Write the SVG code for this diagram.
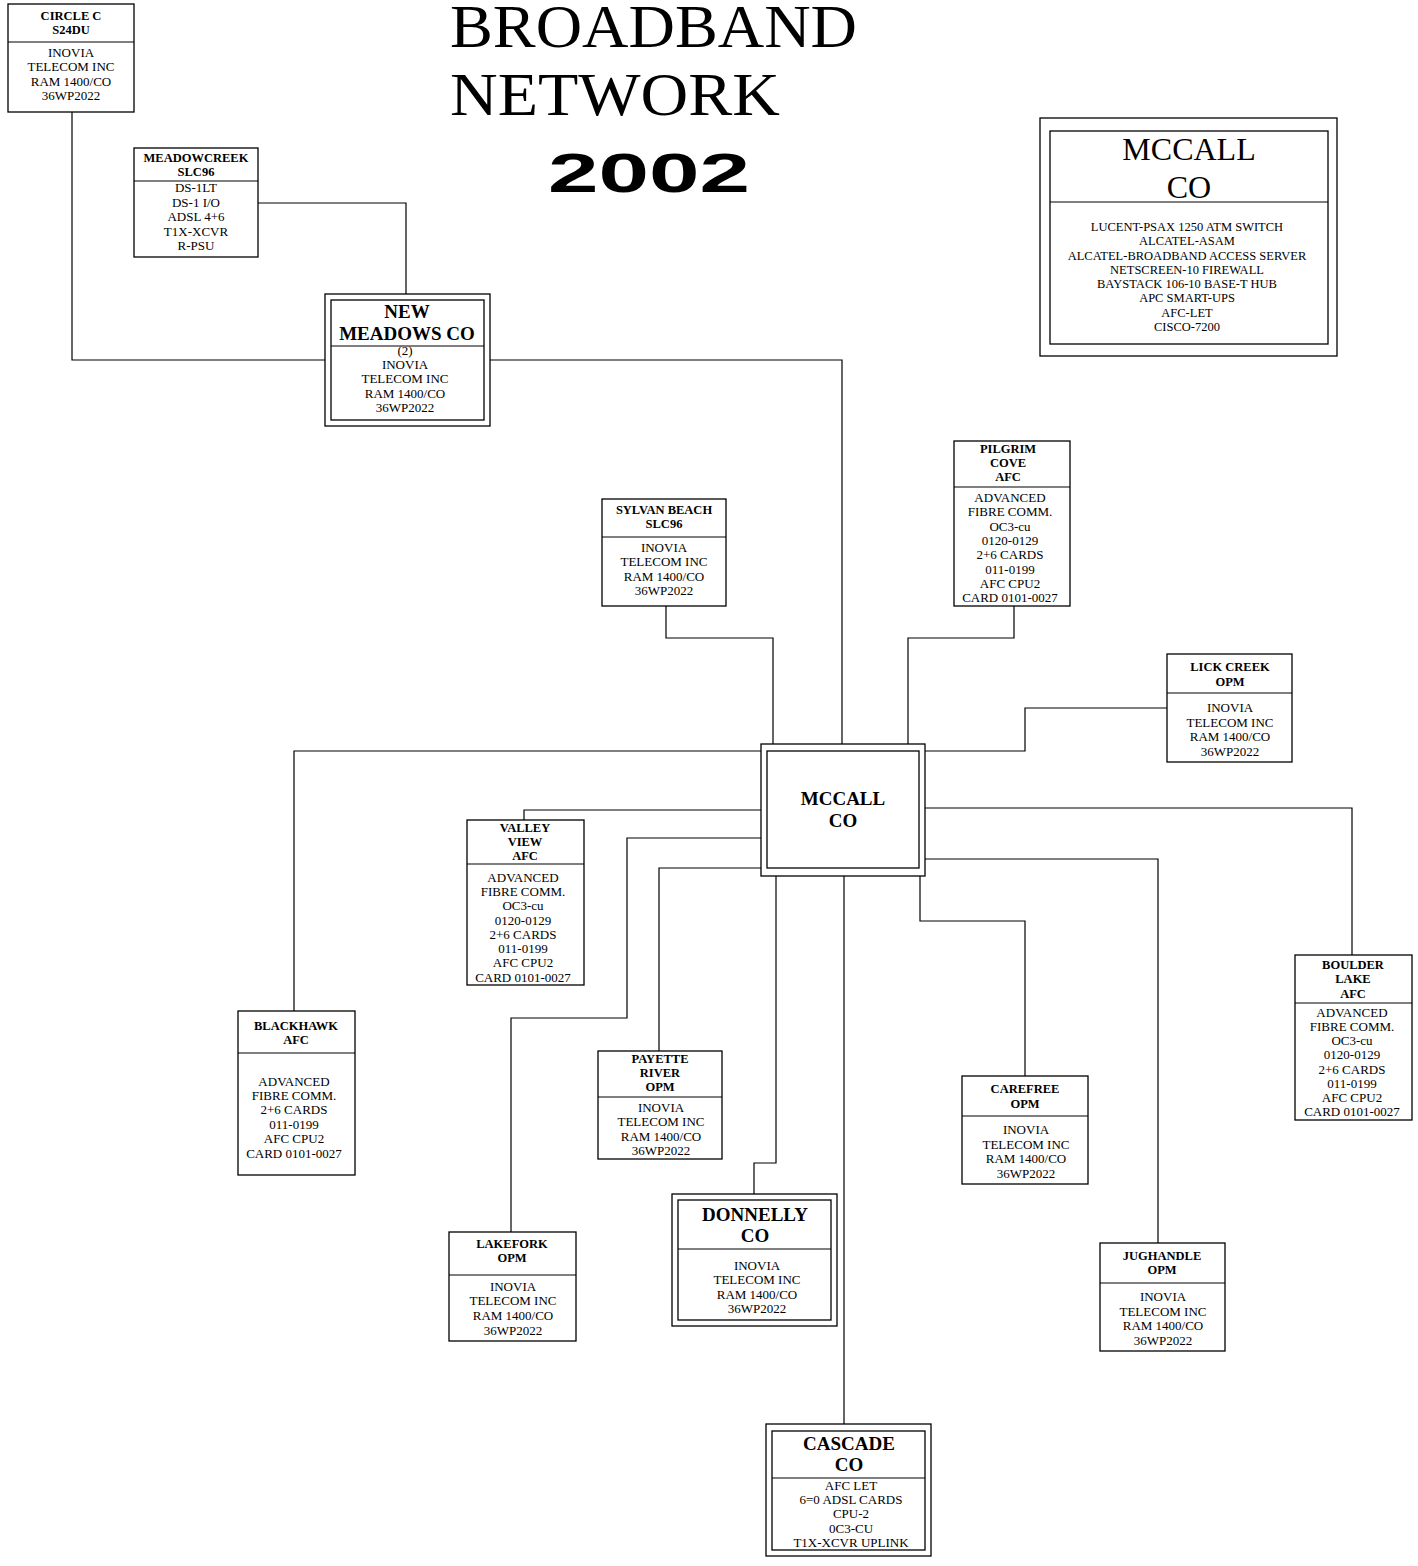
<svg xmlns="http://www.w3.org/2000/svg" width="1418" height="1566" viewBox="0 0 1418 1566">
<style>
.box{fill:#fff;stroke:#000;stroke-width:1.3}
.dv{stroke:#000;stroke-width:1.2}
.ln{fill:none;stroke:#000;stroke-width:1.2}
.h{font-family:"Liberation Serif",serif;font-weight:bold;font-size:12.5px;text-anchor:middle}
.hb{font-family:"Liberation Serif",serif;font-weight:bold;font-size:19px;text-anchor:middle}
.b{font-family:"Liberation Serif",serif;font-size:13px;text-anchor:middle}
.bs{font-family:"Liberation Serif",serif;font-size:12.5px;text-anchor:middle}
</style>
<rect width="1418" height="1566" fill="#fff"/>
<g id="title">
<text x="450" y="47" font-family="Liberation Serif,serif" font-size="62" textLength="407" lengthAdjust="spacingAndGlyphs">BROADBAND</text>
<text x="450" y="115" font-family="Liberation Serif,serif" font-size="62" textLength="330" lengthAdjust="spacingAndGlyphs">NETWORK</text>
<text x="548" y="192" font-family="Liberation Sans,sans-serif" font-weight="bold" font-size="56" textLength="202" lengthAdjust="spacingAndGlyphs">2002</text>
</g>
<g id="connectors">
<polyline class="ln" points="72,112 72,360 325,360"/>
<polyline class="ln" points="258,203 406,203 406,294"/>
<polyline class="ln" points="490,360 842,360 842,744"/>
<polyline class="ln" points="666,606 666,638 773,638 773,744"/>
<polyline class="ln" points="1014,606 1014,638 908,638 908,744"/>
<polyline class="ln" points="1167,708 1025,708 1025,751 925,751"/>
<polyline class="ln" points="761,751 294,751 294,1011"/>
<polyline class="ln" points="761,810 524,810 524,820"/>
<polyline class="ln" points="761,838 627,838 627,1018 511,1018 511,1232"/>
<polyline class="ln" points="761,868 659,868 659,1051"/>
<polyline class="ln" points="776,876 776,1163 754,1163 754,1194"/>
<polyline class="ln" points="844,876 844,1424"/>
<polyline class="ln" points="920,876 920,921 1025,921 1025,1076"/>
<polyline class="ln" points="925,859 1158,859 1158,1243"/>
<polyline class="ln" points="925,808 1352,808 1352,955"/>
</g>
<g id="circle-c">
<rect class="box" x="8" y="4" width="126" height="108"/>
<line class="dv" x1="8" y1="42" x2="134" y2="42"/>
<text class="h" x="71" y="20">CIRCLE C</text>
<text class="h" x="71" y="34">S24DU</text>
<text class="b" x="71" y="57">INOVIA</text>
<text class="b" x="71" y="71">TELECOM INC</text>
<text class="b" x="71" y="86">RAM 1400/CO</text>
<text class="b" x="71" y="100">36WP2022</text>
</g>
<g id="meadowcreek">
<rect class="box" x="134" y="148" width="124" height="109"/>
<line class="dv" x1="134" y1="181" x2="258" y2="181"/>
<text class="h" x="196" y="162">MEADOWCREEK</text>
<text class="h" x="196" y="176">SLC96</text>
<text class="b" x="196" y="192">DS-1LT</text>
<text class="b" x="196" y="207">DS-1 I/O</text>
<text class="b" x="196" y="221">ADSL 4+6</text>
<text class="b" x="196" y="236">T1X-XCVR</text>
<text class="b" x="196" y="250">R-PSU</text>
</g>
<g id="new-meadows">
<rect class="box" x="325" y="294" width="165" height="132"/>
<rect class="box" x="331" y="300" width="153" height="120"/>
<line class="dv" x1="331" y1="346" x2="484" y2="346"/>
<text class="hb" x="407" y="318">NEW</text>
<text class="hb" x="407" y="340">MEADOWS CO</text>
<text class="b" x="405" y="355" font-size="10">(2)</text>
<text class="b" x="405" y="369">INOVIA</text>
<text class="b" x="405" y="383">TELECOM INC</text>
<text class="b" x="405" y="398">RAM 1400/CO</text>
<text class="b" x="405" y="412">36WP2022</text>
</g>
<g id="mccall-legend">
<rect class="box" x="1040" y="118" width="297" height="238"/>
<rect class="box" x="1050" y="131" width="278" height="213"/>
<line class="dv" x1="1050" y1="202" x2="1328" y2="202"/>
<text x="1189" y="160" font-family="Liberation Serif,serif" font-size="32" text-anchor="middle">MCCALL</text>
<text x="1189" y="198" font-family="Liberation Serif,serif" font-size="32" text-anchor="middle">CO</text>
<text class="bs" x="1187" y="231">LUCENT-PSAX 1250 ATM SWITCH</text>
<text class="bs" x="1187" y="245">ALCATEL-ASAM</text>
<text class="bs" x="1187" y="260">ALCATEL-BROADBAND ACCESS SERVER</text>
<text class="bs" x="1187" y="274">NETSCREEN-10 FIREWALL</text>
<text class="bs" x="1187" y="288">BAYSTACK 106-10 BASE-T HUB</text>
<text class="bs" x="1187" y="302">APC SMART-UPS</text>
<text class="bs" x="1187" y="317">AFC-LET</text>
<text class="bs" x="1187" y="331">CISCO-7200</text>
</g>
<g id="sylvan-beach">
<rect class="box" x="602" y="499" width="124" height="107"/>
<line class="dv" x1="602" y1="537" x2="726" y2="537"/>
<text class="h" x="664" y="514">SYLVAN BEACH</text>
<text class="h" x="664" y="528">SLC96</text>
<text class="b" x="664" y="552">INOVIA</text>
<text class="b" x="664" y="566">TELECOM INC</text>
<text class="b" x="664" y="581">RAM 1400/CO</text>
<text class="b" x="664" y="595">36WP2022</text>
</g>
<g id="pilgrim-cove">
<rect class="box" x="954" y="441" width="116" height="165"/>
<line class="dv" x1="954" y1="487" x2="1070" y2="487"/>
<text class="h" x="1008" y="453">PILGRIM</text>
<text class="h" x="1008" y="467">COVE</text>
<text class="h" x="1008" y="481">AFC</text>
<text class="b" x="1010" y="502">ADVANCED</text>
<text class="b" x="1010" y="516">FIBRE COMM.</text>
<text class="b" x="1010" y="531">OC3-cu</text>
<text class="b" x="1010" y="545">0120-0129</text>
<text class="b" x="1010" y="559">2+6 CARDS</text>
<text class="b" x="1010" y="574">011-0199</text>
<text class="b" x="1010" y="588">AFC CPU2</text>
<text class="b" x="1010" y="602">CARD 0101-0027</text>
</g>
<g id="lick-creek">
<rect class="box" x="1167" y="654" width="125" height="108"/>
<line class="dv" x1="1167" y1="693" x2="1292" y2="693"/>
<text class="h" x="1230" y="671">LICK CREEK</text>
<text class="h" x="1230" y="686">OPM</text>
<text class="b" x="1230" y="712">INOVIA</text>
<text class="b" x="1230" y="727">TELECOM INC</text>
<text class="b" x="1230" y="741">RAM 1400/CO</text>
<text class="b" x="1230" y="756">36WP2022</text>
</g>
<g id="mccall-co">
<rect class="box" x="761" y="744" width="164" height="132"/>
<rect class="box" x="767" y="751" width="152" height="117"/>
<text class="hb" x="843" y="805" font-size="18.5">MCCALL</text>
<text class="hb" x="843" y="827" font-size="18.5">CO</text>
</g>
<g id="valley-view">
<rect class="box" x="467" y="820" width="117" height="165"/>
<line class="dv" x1="467" y1="864" x2="584" y2="864"/>
<text class="h" x="525" y="832">VALLEY</text>
<text class="h" x="525" y="846">VIEW</text>
<text class="h" x="525" y="860">AFC</text>
<text class="b" x="523" y="882">ADVANCED</text>
<text class="b" x="523" y="896">FIBRE COMM.</text>
<text class="b" x="523" y="910">OC3-cu</text>
<text class="b" x="523" y="925">0120-0129</text>
<text class="b" x="523" y="939">2+6 CARDS</text>
<text class="b" x="523" y="953">011-0199</text>
<text class="b" x="523" y="967">AFC CPU2</text>
<text class="b" x="523" y="982">CARD 0101-0027</text>
</g>
<g id="blackhawk">
<rect class="box" x="238" y="1011" width="117" height="164"/>
<line class="dv" x1="238" y1="1053" x2="355" y2="1053"/>
<text class="h" x="296" y="1030">BLACKHAWK</text>
<text class="h" x="296" y="1044">AFC</text>
<text class="b" x="294" y="1086">ADVANCED</text>
<text class="b" x="294" y="1100">FIBRE COMM.</text>
<text class="b" x="294" y="1114">2+6 CARDS</text>
<text class="b" x="294" y="1129">011-0199</text>
<text class="b" x="294" y="1143">AFC CPU2</text>
<text class="b" x="294" y="1158">CARD 0101-0027</text>
</g>
<g id="payette-river">
<rect class="box" x="598" y="1051" width="124" height="108"/>
<line class="dv" x1="598" y1="1097" x2="722" y2="1097"/>
<text class="h" x="660" y="1063">PAYETTE</text>
<text class="h" x="660" y="1077">RIVER</text>
<text class="h" x="660" y="1091">OPM</text>
<text class="b" x="661" y="1112">INOVIA</text>
<text class="b" x="661" y="1126">TELECOM INC</text>
<text class="b" x="661" y="1141">RAM 1400/CO</text>
<text class="b" x="661" y="1155">36WP2022</text>
</g>
<g id="lakefork">
<rect class="box" x="449" y="1232" width="127" height="109"/>
<line class="dv" x1="449" y1="1275" x2="576" y2="1275"/>
<text class="h" x="512" y="1248">LAKEFORK</text>
<text class="h" x="512" y="1262">OPM</text>
<text class="b" x="513" y="1291">INOVIA</text>
<text class="b" x="513" y="1305">TELECOM INC</text>
<text class="b" x="513" y="1320">RAM 1400/CO</text>
<text class="b" x="513" y="1335">36WP2022</text>
</g>
<g id="donnelly">
<rect class="box" x="672" y="1194" width="165" height="132"/>
<rect class="box" x="678" y="1200" width="153" height="120"/>
<line class="dv" x1="678" y1="1249" x2="831" y2="1249"/>
<text class="hb" x="755" y="1221">DONNELLY</text>
<text class="hb" x="755" y="1242">CO</text>
<text class="b" x="757" y="1270">INOVIA</text>
<text class="b" x="757" y="1284">TELECOM INC</text>
<text class="b" x="757" y="1299">RAM 1400/CO</text>
<text class="b" x="757" y="1313">36WP2022</text>
</g>
<g id="carefree">
<rect class="box" x="962" y="1076" width="126" height="108"/>
<line class="dv" x1="962" y1="1116" x2="1088" y2="1116"/>
<text class="h" x="1025" y="1093">CAREFREE</text>
<text class="h" x="1025" y="1108">OPM</text>
<text class="b" x="1026" y="1134">INOVIA</text>
<text class="b" x="1026" y="1149">TELECOM INC</text>
<text class="b" x="1026" y="1163">RAM 1400/CO</text>
<text class="b" x="1026" y="1178">36WP2022</text>
</g>
<g id="jughandle">
<rect class="box" x="1100" y="1243" width="125" height="108"/>
<line class="dv" x1="1100" y1="1283" x2="1225" y2="1283"/>
<text class="h" x="1162" y="1260">JUGHANDLE</text>
<text class="h" x="1162" y="1274">OPM</text>
<text class="b" x="1163" y="1301">INOVIA</text>
<text class="b" x="1163" y="1316">TELECOM INC</text>
<text class="b" x="1163" y="1330">RAM 1400/CO</text>
<text class="b" x="1163" y="1345">36WP2022</text>
</g>
<g id="boulder-lake">
<rect class="box" x="1295" y="955" width="117" height="165"/>
<line class="dv" x1="1295" y1="1003" x2="1412" y2="1003"/>
<text class="h" x="1353" y="969">BOULDER</text>
<text class="h" x="1353" y="983">LAKE</text>
<text class="h" x="1353" y="998">AFC</text>
<text class="b" x="1352" y="1017">ADVANCED</text>
<text class="b" x="1352" y="1031">FIBRE COMM.</text>
<text class="b" x="1352" y="1045">OC3-cu</text>
<text class="b" x="1352" y="1059">0120-0129</text>
<text class="b" x="1352" y="1074">2+6 CARDS</text>
<text class="b" x="1352" y="1088">011-0199</text>
<text class="b" x="1352" y="1102">AFC CPU2</text>
<text class="b" x="1352" y="1116">CARD 0101-0027</text>
</g>
<g id="cascade">
<rect class="box" x="766" y="1424" width="165" height="132"/>
<rect class="box" x="772" y="1431" width="153" height="119"/>
<line class="dv" x1="772" y1="1478" x2="925" y2="1478"/>
<text class="hb" x="849" y="1450">CASCADE</text>
<text class="hb" x="849" y="1471">CO</text>
<text class="b" x="851" y="1490">AFC  LET</text>
<text class="b" x="851" y="1504">6=0 ADSL CARDS</text>
<text class="b" x="851" y="1518">CPU-2</text>
<text class="b" x="851" y="1533">0C3-CU</text>
<text class="b" x="851" y="1547">T1X-XCVR UPLINK</text>
</g>
</svg>
